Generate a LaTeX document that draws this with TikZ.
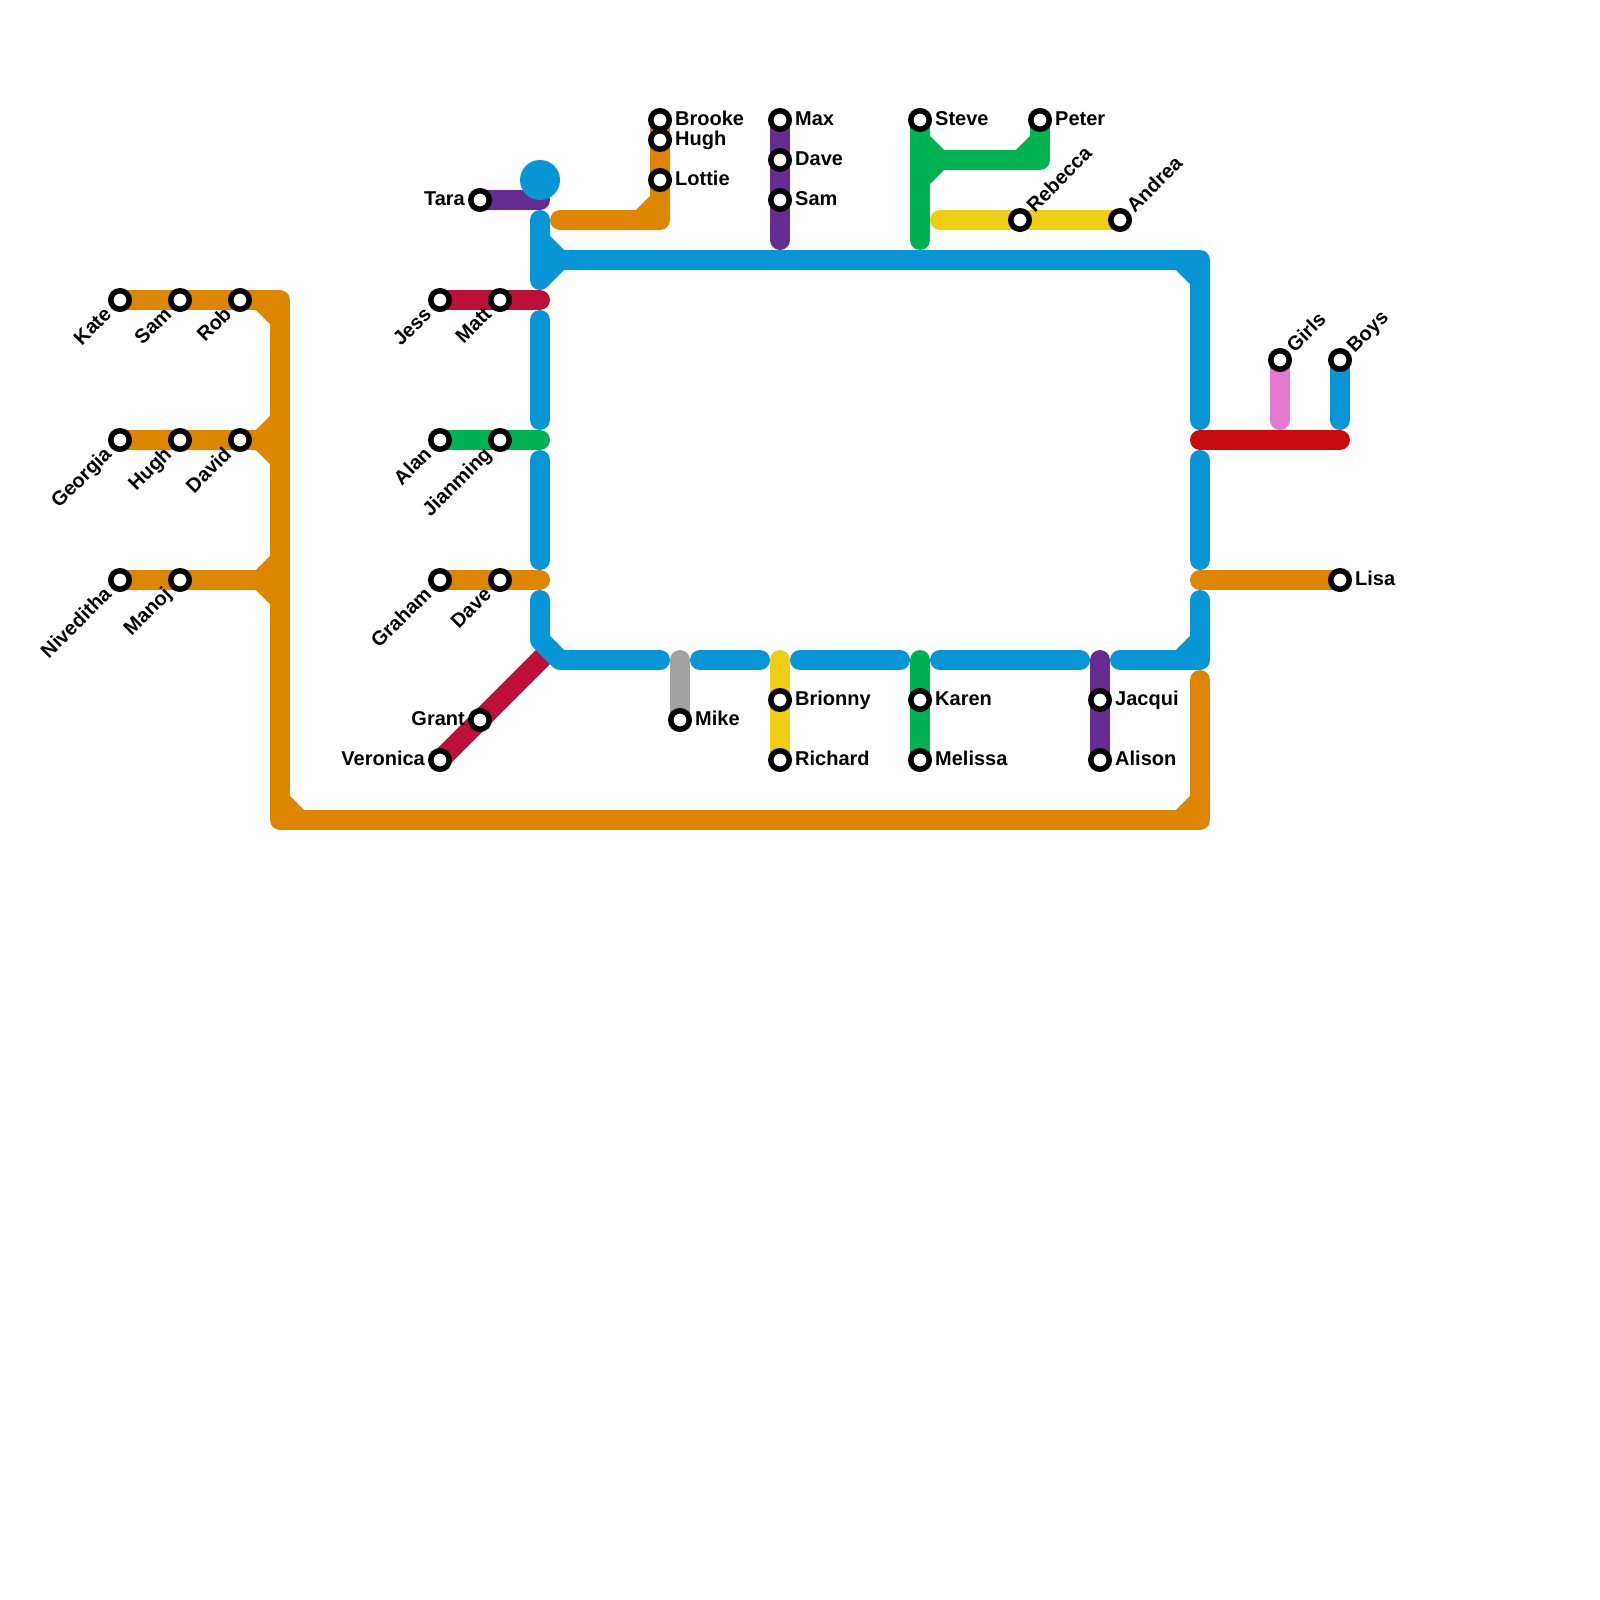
\documentclass[tikz,border=0pt]{standalone}
\usepackage{fontspec}
\setmainfont{Liberation Sans}
\usetikzlibrary{backgrounds}
\definecolor{cOrange}{HTML}{DF8600}
\definecolor{cBlue}{HTML}{0896D7}
\definecolor{cPurple}{HTML}{662C90}
\definecolor{cCrimson}{HTML}{BD1038}
\definecolor{cGreen}{HTML}{00B251}
\definecolor{cYellow}{HTML}{F0CE15}
\definecolor{cGray}{HTML}{A2A2A2}
\definecolor{cPink}{HTML}{E579CF}
\definecolor{cRed}{HTML}{C60C0C}
\tikzset{
  metro/.style={line width=20pt,line cap=round,line join=round},
  station/.style={circle,draw=black,fill=white,line width=5.5pt,minimum size=18.5pt,inner sep=0pt,outer sep=0pt},
  lbl/.style={font=\fontsize{20}{24}\selectfont\bfseries,inner sep=0pt,text=black,text height=14.4pt,text depth=0pt},
  lblR/.style={lbl,anchor=west,xshift=15pt,yshift=2pt},
  lblL/.style={lbl,anchor=east,xshift=-15pt,yshift=2pt},
  lblDL/.style={lbl,anchor=east,rotate=45,xshift=-16pt,yshift=1.5pt},
  lblUR/.style={lbl,anchor=west,rotate=45,xshift=15pt,yshift=1.5pt},
}
\newcommand{\stn}[4]{% name, position, label style, text
  \node[station] (#1) at (#2) {};
  \node[#3] (#1txt) at (#2) {#4};
}
\begin{document}
\begin{tikzpicture}[x=1pt,y=-1pt]
\useasboundingbox (0,0) rectangle (1600,1600);
% stations
\stn{kate}{120,300}{lblDL}{Kate}
\stn{samA}{180,300}{lblDL}{Sam}
\stn{rob}{240,300}{lblDL}{Rob}
\stn{georgia}{120,440}{lblDL}{Georgia}
\stn{hughA}{180,440}{lblDL}{Hugh}
\stn{david}{240,440}{lblDL}{David}
\stn{niveditha}{120,580}{lblDL}{Niveditha}
\stn{manoj}{180,580}{lblDL}{Manoj}
\stn{jess}{440,300}{lblDL}{Jess}
\stn{matt}{500,300}{lblDL}{Matt}
\stn{alan}{440,440}{lblDL}{Alan}
\stn{jianming}{500,440}{lblDL}{Jianming}
\stn{graham}{440,580}{lblDL}{Graham}
\stn{daveA}{500,580}{lblDL}{Dave}
\stn{tara}{480,200}{lblL}{Tara}
\stn{grant}{480,720}{lblL}{Grant}
\stn{veronica}{440,760}{lblL}{Veronica}
\stn{brooke}{660,120}{lblR}{Brooke}
\stn{hughB}{660,140}{lblR}{Hugh}
\stn{lottie}{660,180}{lblR}{Lottie}
\stn{max}{780,120}{lblR}{Max}
\stn{daveB}{780,160}{lblR}{Dave}
\stn{samB}{780,200}{lblR}{Sam}
\stn{steve}{920,120}{lblR}{Steve}
\stn{peter}{1040,120}{lblR}{Peter}
\stn{rebecca}{1020,220}{lblUR}{Rebecca}
\stn{andrea}{1120,220}{lblUR}{Andrea}
\stn{girls}{1280,360}{lblUR}{Girls}
\stn{boys}{1340,360}{lblUR}{Boys}
\stn{lisa}{1340,580}{lblR}{Lisa}
\stn{mike}{680,720}{lblR}{Mike}
\stn{brionny}{780,700}{lblR}{Brionny}
\stn{richard}{780,760}{lblR}{Richard}
\stn{karen}{920,700}{lblR}{Karen}
\stn{melissa}{920,760}{lblR}{Melissa}
\stn{jacqui}{1100,700}{lblR}{Jacqui}
\stn{alison}{1100,760}{lblR}{Alison}
% free ends and bends
\foreach \n/\p in {
 oA/{280,300},oB/{260,300},oC/{280,320},oD/{280,440},oE/{260,440},oF/{280,420},oG/{280,460},
 oH/{280,580},oI/{260,580},oJ/{280,560},oK/{280,600},oL/{280,820},oM/{280,800},oN/{300,820},
 oP/{1200,820},oQ/{1180,820},oR/{1200,800},oS/{1200,680},
 oT/{540,580},oU/{560,220},oV/{660,220},oW/{640,220},oX/{660,200},oY/{1200,580},
 pT/{540,200},cA/{540,300},cB/{550,650},gA/{540,440},gB/{920,240},gC/{920,160},gD/{1040,160},
 gE/{920,140},gF/{940,160},gG/{920,180},gH/{1020,160},gI/{1040,140},
 yA/{940,220},pA/{780,240},gyA/{680,660},yB/{780,660},gK/{920,660},pB/{1100,660},
 rA/{1200,440},rB/{1340,440},kA/{1280,420},
 bA/{540,220},bB/{540,280},bC/{540,240},bD/{560,260},bE/{1200,260},bF/{1180,260},bG/{1200,280},bH/{1200,420},
 bI/{540,320},bJ/{540,420},bK/{540,460},bL/{540,560},bM/{540,600},bN/{540,640},bO/{560,660},bP/{660,660},
 bQ/{700,660},bR/{760,660},bS/{800,660},bT/{900,660},bU/{940,660},bV/{1080,660},bW/{1120,660},bX/{1200,660},
 bY/{1200,640},bZ/{1180,660},ba/{1200,600},bb/{1200,460},bc/{1200,560},bd/{1340,420},hub/{540,180}}
 {\coordinate (\n) at (\p);}
\begin{scope}[on background layer]
% orange
\draw[metro,cOrange] (kate.center) -- (oA) -- (oL) -- (oP) -- (oS);
\draw[metro,cOrange] (oB) -- (oC);
\draw[metro,cOrange] (georgia.center) -- (oD) (oF) -- (oE) -- (oG);
\draw[metro,cOrange] (niveditha.center) -- (oH) (oJ) -- (oI) -- (oK);
\draw[metro,cOrange] (oM) -- (oN) (oQ) -- (oR);
\draw[metro,cOrange] (graham.center) -- (oT);
\draw[metro,cOrange] (oU) -- (oV) -- (brooke.center) (oW) -- (oX);
\draw[metro,cOrange] (oY) -- (lisa.center);
% purple
\draw[metro,cPurple] (tara.center) -- (pT);
\draw[metro,cPurple] (max.center) -- (pA);
\draw[metro,cPurple] (pB) -- (alison.center);
% crimson
\draw[metro,cCrimson] (jess.center) -- (cA);
\draw[metro,cCrimson] (veronica.center) -- (cB);
% green
\draw[metro,cGreen] (alan.center) -- (gA);
\draw[metro,cGreen] (steve.center) -- (gB);
\draw[metro,cGreen] (gC) -- (gD) -- (peter.center);
\draw[metro,cGreen] (gE) -- (gF) -- (gG) (gH) -- (gI);
\draw[metro,cGreen] (gK) -- (melissa.center);
% yellow
\draw[metro,cYellow] (yA) -- (andrea.center);
\draw[metro,cYellow] (yB) -- (richard.center);
% gray
\draw[metro,cGray] (gyA) -- (mike.center);
% pink and red
\draw[metro,cPink] (girls.center) -- (kA);
\draw[metro,cRed] (rA) -- (rB);
% blue
\fill[cBlue] (hub) circle[radius=20pt];
\draw[metro,cBlue] (bA) -- (bB) (bC) -- (bD) -- (bB) (bD) -- (bE) -- (bH) (bF) -- (bG);
\draw[metro,cBlue] (bI) -- (bJ);
\draw[metro,cBlue] (bK) -- (bL);
\draw[metro,cBlue] (bM) -- (bN) -- (bO) -- (bP);
\draw[metro,cBlue] (bQ) -- (bR);
\draw[metro,cBlue] (bS) -- (bT);
\draw[metro,cBlue] (bU) -- (bV);
\draw[metro,cBlue] (bW) -- (bX) -- (ba) (bZ) -- (bY);
\draw[metro,cBlue] (bb) -- (bc);
\draw[metro,cBlue] (boys.center) -- (bd);
\end{scope}
\end{tikzpicture}
\end{document}
